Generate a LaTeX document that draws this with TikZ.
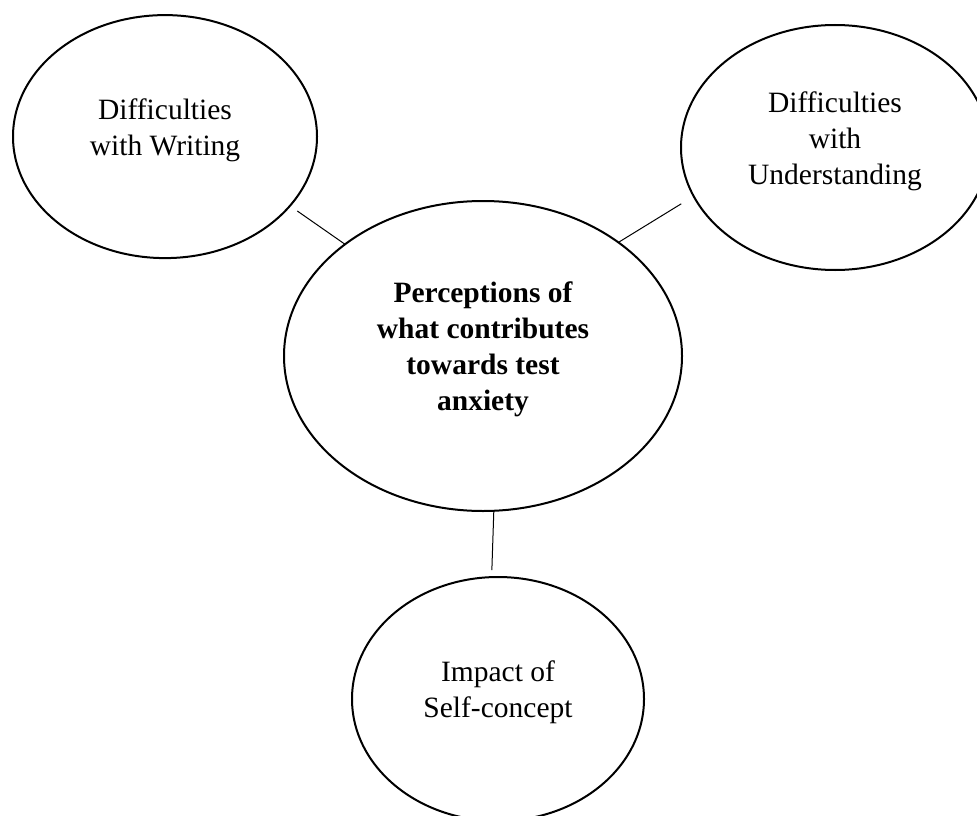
\documentclass[tikz,border=0pt]{standalone}
\usepackage{fontspec}
\setmainfont{Liberation Serif}
\usetikzlibrary{shapes.geometric}
\tikzset{
  bubble/.style={draw, ellipse, line width=2pt, inner sep=0pt, outer sep=0pt},
  bubbletext/.style={align=center, inner sep=0pt, font=\fontsize{29.5}{36}\selectfont},
  link/.style={draw, line width=1pt}
}
\begin{document}
\begin{tikzpicture}[x=1pt, y=-1pt]
\useasboundingbox (0,0) rectangle (977,816);
% ellipses
\node[bubble, minimum width=304pt, minimum height=243pt] (w) at (165,136.6) {};
\node[bubble, minimum width=308pt, minimum height=245pt] (r) at (835,147.5) {};
\node[bubble, minimum width=398pt, minimum height=310pt] (c) at (483,356) {};
\node[bubble, minimum width=292pt, minimum height=244pt] (b) at (498,699) {};
% texts
\node[bubbletext, yshift=6.8pt] (wt) at (w) {Difficulties\\with Writing};
\node[bubbletext, yshift=5.8pt] (rt) at (r) {Difficulties\\with\\Understanding};
\node[bubbletext, yshift=7pt] (ct) at (c) {\bfseries Perceptions of\\\bfseries what contributes\\\bfseries towards test\\\bfseries anxiety};
\node[bubbletext, yshift=6.3pt] (bt) at (b) {Impact of\\Self-concept};
% connectors
\draw[link, shorten >=9pt] (c.141) -- (w.-29);
\draw[link, shorten >=14.6pt] (c.40.3) -- (r.199.8);
\draw[link, shorten >=7pt] (c.-86.7) -- (b.93);
\end{tikzpicture}
\end{document}
